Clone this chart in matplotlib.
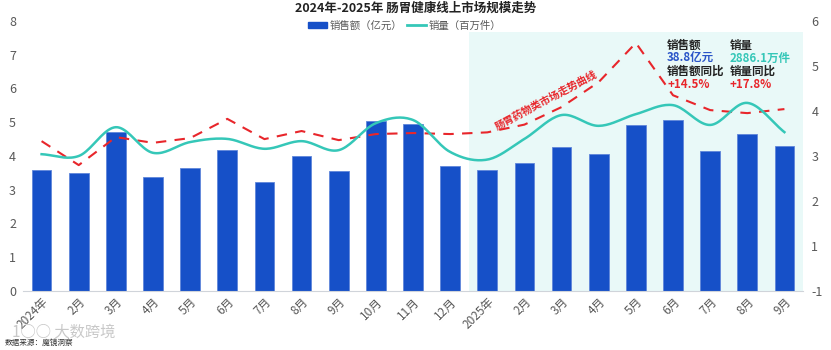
import numpy as np
import matplotlib
matplotlib.use("Agg")
import matplotlib.pyplot as plt
from matplotlib.patches import Patch
from matplotlib.lines import Line2D

plt.rcParams['font.family'] = ['Noto Sans CJK SC', 'DejaVu Sans']

months = ["2024年", "2月", "3月", "4月", "5月", "6月", "7月", "8月", "9月", "10月", "11月", "12月",
          "2025年", "2月", "3月", "4月", "5月", "6月", "7月", "8月", "9月"]
sales = [3.58, 3.50, 4.71, 3.38, 3.64, 4.18, 3.23, 4.00, 3.56, 5.04, 4.95, 3.70,
         3.58, 3.79, 4.27, 4.06, 4.92, 5.07, 4.15, 4.65, 4.30]
volume = [3.04, 3.00, 3.64, 3.07, 3.31, 3.38, 3.16, 3.33, 3.13, 3.73, 3.80, 3.09,
          2.92, 3.38, 3.91, 3.67, 3.93, 4.13, 3.69, 4.18, 3.53]
trend = [4.44, 3.73, 4.56, 4.39, 4.53, 5.10, 4.50, 4.74, 4.47, 4.65, 4.68, 4.65,
         4.70, 4.93, 5.45, 6.19, 7.35, 5.80, 5.36, 5.27, 5.39]
right_labels = ["-1", "1", "2", "3", "4", "5", "6"]

BLUE = "#1650C8"
TEAL = "#35C7B8"
RED = "#E8262B"
GREY = "#595959"


def smooth(x, y, n=20):
    # catmull-rom, just for drawing the curve
    x = np.asarray(x, float)
    y = np.asarray(y, float)
    px = np.concatenate([[2 * x[0] - x[1]], x, [2 * x[-1] - x[-2]]])
    py = np.concatenate([[2 * y[0] - y[1]], y, [2 * y[-1] - y[-2]]])
    xs, ys = [], []
    t = np.linspace(0, 1, n, endpoint=False)
    for i in range(1, len(px) - 2):
        for p, out in ((px, xs), (py, ys)):
            p0, p1, p2, p3 = p[i - 1], p[i], p[i + 1], p[i + 2]
            out.extend(0.5 * (2 * p1 + (-p0 + p2) * t + (2 * p0 - 5 * p1 + 4 * p2 - p3) * t ** 2
                              + (-p0 + 3 * p1 - 3 * p2 + p3) * t ** 3))
    xs.append(x[-1])
    ys.append(y[-1])
    return np.array(xs), np.array(ys)


fig = plt.figure(figsize=(8.31, 3.5), dpi=100)
ax = fig.add_axes([0.0277, 0.1686, 0.9386, 0.7714])
ax2 = ax.twinx()

x = np.arange(len(months))

# shaded 2025 block
ax.axvspan(11.5, 20.5, ymin=0, ymax=7.67 / 8, color="#E9F9F8", zorder=0, lw=0)

ax.bar(x, sales, width=0.53, color=BLUE, edgecolor="#5F86DA", linewidth=0.6, zorder=2)
ax.plot(x, trend, color=RED, lw=1.5, ls=(0, (5, 4)), zorder=3)

sx, sy = smooth(x, volume)
ax2.plot(sx, sy, color=TEAL, lw=1.8, zorder=3)

ax.set_xlim(-0.5, 20.5)
ax.set_ylim(0, 8)
ax2.set_ylim(0, 6)
ax.set_yticks(range(0, 9))
ax2.set_yticks(range(0, 7))
ax2.set_yticklabels(right_labels)
ax.set_xticks(x)
ax.set_xticklabels(months, rotation=45, ha="right", rotation_mode="anchor", fontsize=8.5, color=GREY)

for a in (ax, ax2):
    for s in a.spines.values():
        s.set_visible(False)
    a.tick_params(axis="y", length=0, labelsize=9, colors=GREY)
ax.tick_params(axis="x", length=0, pad=3)
ax.spines["bottom"].set_visible(True)
ax.spines["bottom"].set_color("#D0D4DA")
ax.tick_params(axis="y", pad=5)
ax2.tick_params(axis="y", pad=6)

fig.text(0.5, 0.977, "2024年-2025年 肠胃健康线上市场规模走势", ha="center", va="center",
         fontsize=9, fontweight="bold", color="#222222")

handles = [Patch(color=BLUE), Line2D([], [], color=TEAL, lw=2)]
fig.legend(handles, ["销售额（亿元）", "销量（百万件）"], loc="center", bbox_to_anchor=(0.487, 0.927),
           ncol=2, frameon=False, fontsize=7.5, labelcolor=GREY, handlelength=1.8,
           handleheight=0.55, columnspacing=0.5, handletextpad=0.25)

# summary box
def put(px, py, s, c, **kw):
    fig.text(px / 831, 1 - py / 350, s, color=c, fontsize=8.3, fontweight="bold", va="center", **kw)

put(667, 45, "销售额", "#222222")
put(667, 58, "38.8亿元", "#2A55C8")
put(667, 71, "销售额同比", "#222222")
put(667, 85, "+14.5%", RED)
put(730, 45, "销量", "#222222")
put(730, 58, "2886.1万件", TEAL)
put(730, 71, "销量同比", "#222222")
put(730, 85, "+17.8%", RED)

fig.text(546 / 831, 1 - 100 / 350, "肠胃药物类市场走势曲线", color=RED, fontsize=7.5, fontweight="bold",
         rotation=28, ha="center", va="center")

fig.text(0.015, 1 - 332 / 350, "1○○ 大数跨境", color="#BBBBBB", fontsize=11, alpha=0.8, va="center")
fig.text(0.006, 1 - 343 / 350, "数据来源：魔镜洞察", color="#333333", fontsize=5.5, va="center")

fig.savefig("out.png", dpi=100)
